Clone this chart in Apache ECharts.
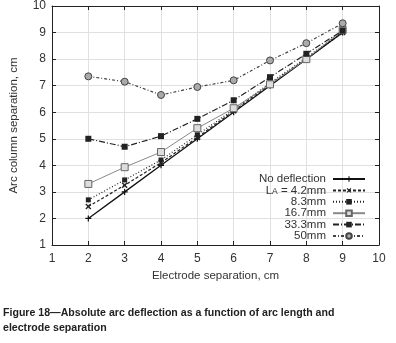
<!DOCTYPE html>
<html>
<head>
<meta charset="utf-8">
<script src="https://cdn.jsdelivr.net/npm/echarts@6/dist/echarts.min.js"></script>
<style>
html, body { margin: 0; padding: 0; background: #fff; }
#main { width: 396px; height: 343px; }
</style>
</head>
<body>
<div id="main"></div>
<script>
// 数据
var xValues = [2, 3, 4, 5, 6, 7, 8, 9];
var noDeflection = [2.0, 3.0, 4.0, 5.0, 6.0, 7.0, 8.0, 9.0];
var la42 = [2.45, 3.25, 4.1, 5.05, 6.05, 7.05, 8.0, 9.0];
var la83 = [2.7, 3.45, 4.2, 5.15, 6.1, 7.1, 8.05, 9.05];
var la167 = [3.3, 3.93, 4.5, 5.4, 6.15, 7.05, 8.0, 9.1];
var la333 = [5.0, 4.7, 5.1, 5.75, 6.45, 7.32, 8.2, 9.08];
var la50 = [7.35, 7.15, 6.65, 6.95, 7.2, 7.95, 8.6, 9.35];
var seriesNames = ['No deflection', 'LA = 4.2mm', '8.3mm', '16.7mm', '33.3mm', '50mm'];

function pairs(ys) {
	return xValues.map(function (x, i) { return [x, ys[i]]; });
}

var plusPath = 'path://M4,0H6V4H10V6H6V10H4V6H0V4H4Z';
var font = '"Liberation Sans", Arial, sans-serif';

var chart = echarts.init(document.getElementById('main'));

var option = {
	animation: false,
	textStyle: { fontFamily: font },
	grid: { left: 46, right: 17, top: 6, bottom: 98 },
	legend: {
		orient: 'vertical',
		right: 25,
		top: 168,
		align: 'right',
		itemWidth: 32,
		itemHeight: 7,
		itemGap: -0.6,
		data: seriesNames,
		textStyle: {
			fontSize: 11.5, color: '#333', lineHeight: 11, padding: [0, 2, 0, 0],
			rich: { sub: { fontSize: 8.5, verticalAlign: 'bottom', padding: [6, 0, 0, 0] } }
		},
		formatter: function (name) {
			if (name === 'LA = 4.2mm') return 'L{sub|A} = 4.2mm';
			return name;
		}
	},
	xAxis: [{
		type: 'value', min: 1, max: 10, interval: 1,
		name: 'Electrode separation, cm', nameLocation: 'middle', nameGap: 23,
		nameTextStyle: { fontSize: 11.5, color: '#333' },
		axisLine: { lineStyle: { color: '#222' } },
		axisTick: { inside: true, length: 4, lineStyle: { color: '#222' } },
		axisLabel: { fontSize: 12, color: '#333', margin: 8 },
		splitLine: { lineStyle: { color: '#e0e0e0' } }
	}, {
		type: 'value', min: 1, max: 10, interval: 1, position: 'top',
		axisLine: { show: true, onZero: false, lineStyle: { color: '#222' } },
		axisTick: { inside: true, length: 4, lineStyle: { color: '#222' } },
		axisLabel: { show: false },
		splitLine: { show: false }
	}],
	yAxis: [{
		type: 'value', min: 1, max: 10, interval: 1,
		name: 'Arc column separation, cm', nameLocation: 'middle', nameGap: 32,
		nameTextStyle: { fontSize: 11.5, color: '#333' },
		axisLine: { show: true, lineStyle: { color: '#222' } },
		axisTick: { show: true, inside: true, length: 4, lineStyle: { color: '#222' } },
		axisLabel: { fontSize: 12, color: '#333', margin: 6 },
		splitLine: { lineStyle: { color: '#e0e0e0' } }
	}, {
		type: 'value', min: 1, max: 10, interval: 1, position: 'right',
		axisLine: { show: true, onZero: false, lineStyle: { color: '#222' } },
		axisTick: { show: true, inside: true, length: 4, lineStyle: { color: '#222' } },
		axisLabel: { show: false },
		splitLine: { show: false }
	}],
	series: [{
		name: seriesNames[0], type: 'line', data: pairs(noDeflection),
		symbol: plusPath, symbolSize: 6,
		lineStyle: { color: '#111', width: 1.3, type: 'solid' },
		itemStyle: { color: '#111' }
	}, {
		name: seriesNames[1], type: 'line', data: pairs(la42),
		symbol: plusPath, symbolSize: 7, symbolRotate: 45,
		lineStyle: { color: '#222', width: 1.2, type: [3, 2] },
		itemStyle: { color: '#222' }
	}, {
		name: seriesNames[2], type: 'line', data: pairs(la83),
		symbol: 'rect', symbolSize: 5,
		lineStyle: { color: '#222', width: 1.2, type: [1, 2] },
		itemStyle: { color: '#222' }
	}, {
		name: seriesNames[3], type: 'line', data: pairs(la167),
		symbol: 'rect', symbolSize: 7,
		lineStyle: { color: '#888', width: 1, type: 'solid' },
		itemStyle: { color: '#ddd', borderColor: '#666', borderWidth: 1 }
	}, {
		name: seriesNames[4], type: 'line', data: pairs(la333),
		symbol: 'rect', symbolSize: 6,
		lineStyle: { color: '#222', width: 1.2, type: [6, 2, 1, 2] },
		itemStyle: { color: '#222' }
	}, {
		name: seriesNames[5], type: 'line', data: pairs(la50),
		symbol: 'circle', symbolSize: 7,
		lineStyle: { color: '#444', width: 1.2, type: [3, 2, 1, 2] },
		itemStyle: { color: '#aaa', borderColor: '#444', borderWidth: 1 }
	}],
	graphic: [{
		type: 'text', left: 3, top: 306,
		style: {
			text: 'Figure 18\u2014Absolute arc deflection as a function of arc length and\nelectrode separation',
			font: 'bold 10.6px ' + font, fill: '#222', lineHeight: 15
		}
	}]
};
chart.setOption(option);
</script>
</body>
</html>
